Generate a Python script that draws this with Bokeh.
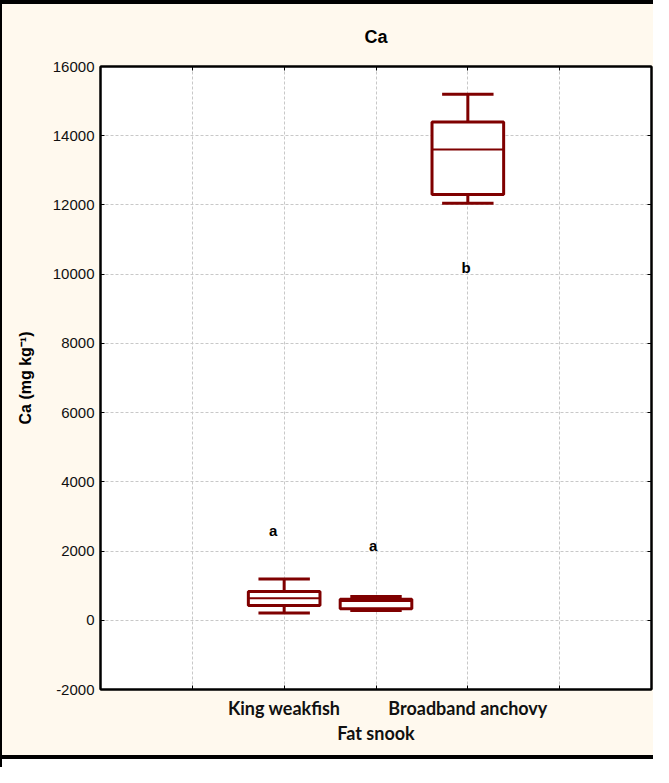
from bokeh.plotting import figure
from bokeh.models import FixedTicker, LinearAxis, Range1d, ColumnDataSource, Grid
from bokeh.core.properties import value
from bokeh.embed import file_html
from bokeh.resources import INLINE

# ---- data ----
categories = ["King weakfish", "Fat snook", "Broadband anchovy"]
cat_pos = [2, 3, 4]
whisker_low = [210, 280, 12050]
q1 = [430, 330, 12300]
median = [640, 560, 13600]
q3 = [830, 610, 14400]
whisker_high = [1190, 690, 15200]
letters = ["a", "a", "b"]
letter_x = [1.88, 2.97, 3.98]
letter_y = [2600, 2150, 10200]
y_ticks = [-2000, 0, 2000, 4000, 6000, 8000, 10000, 12000, 14000, 16000]
x_ticks = [1, 2, 3, 4, 5]

DARK = "#7F0000"
CREAM = "#FFF9EE"
BOX_W = 0.78
CAP_W = 0.56

src = ColumnDataSource(dict(
    x=cat_pos, lo=whisker_low, q1=q1, med=median, q3=q3, hi=whisker_high,
    bl=[c - BOX_W / 2 for c in cat_pos], br=[c + BOX_W / 2 for c in cat_pos],
    cl=[c - CAP_W / 2 for c in cat_pos], cr=[c + CAP_W / 2 for c in cat_pos],
))

W, H = 653, 767
p = figure(width=W, height=H, x_range=Range1d(0, 6), y_range=Range1d(-2000, 16000),
           x_axis_type=None, y_axis_type=None,
           output_backend="svg", toolbar_location=None,
           min_border_left=100, min_border_right=2, min_border_top=66,
           min_border_bottom=78)
p.background_fill_color = "white"
p.border_fill_color = None
p.outline_line_color = "black"
p.outline_line_width = 2

# panel background and borders drawn behind the (transparent) canvas
p.styles = {
    "background": (
        "linear-gradient(#000,#000) 0 0 / 100% 4px no-repeat, "
        "linear-gradient(#000,#000) 0 0 / 2px 100% no-repeat, "
        "linear-gradient(#000,#000) 0 755px / 100% 4px no-repeat, "
        "linear-gradient(#fff,#fff) 0 759px / 100% 8px no-repeat, "
        + CREAM
    )
}

# title
p.title.text = "Ca"
p.title.align = "center"
p.title.text_font = "Liberation Sans"
p.title.text_font_style = "bold"
p.title.text_font_size = "18px"
p.title.text_color = "black"
p.title.standoff = 40

# grids
p.add_layout(Grid(dimension=0, ticker=FixedTicker(ticks=x_ticks),
                  grid_line_color="#C8C8C8", grid_line_dash="3 2", grid_line_width=1))
p.add_layout(Grid(dimension=1, ticker=FixedTicker(ticks=y_ticks),
                  grid_line_color="#C8C8C8", grid_line_dash="3 2", grid_line_width=1))


def frame_axis(ticks):
    ax = LinearAxis(ticker=FixedTicker(ticks=ticks),
                    major_label_overrides={t: "" for t in ticks})
    ax.major_label_text_font_size = "0px"
    ax.major_label_standoff = 0
    ax.major_tick_in = 4
    ax.major_tick_out = 0
    ax.minor_tick_line_color = None
    ax.axis_line_color = "black"
    ax.axis_line_width = 2
    return ax


# y axis
yax = LinearAxis(ticker=FixedTicker(ticks=y_ticks),
                 major_label_overrides={t: str(t) for t in y_ticks})
yax.axis_label = "Ca (mg kg\u207b\u00b9)"
yax.axis_label_text_font = "Liberation Sans"
yax.axis_label_text_font_style = "bold"
yax.axis_label_text_font_size = "16px"
yax.axis_label_text_color = "black"
yax.axis_label_standoff = 16
yax.major_label_text_font = "Liberation Sans"
yax.major_label_text_font_size = "15px"
yax.major_label_text_color = "#111111"
yax.major_label_standoff = 6
yax.major_tick_in = 4
yax.major_tick_out = 0
yax.minor_tick_line_color = None
yax.axis_line_color = "black"
yax.axis_line_width = 2
p.add_layout(yax, "left")

# x axis (row 1)
labels = {1: "", 2: categories[0], 3: "", 4: categories[2], 5: ""}
xax = LinearAxis(ticker=FixedTicker(ticks=x_ticks), major_label_overrides=labels)
xax.major_label_text_font = "Lato"
xax.major_label_text_font_style = "bold"
xax.major_label_text_font_size = "18px"
xax.major_label_text_color = "#111111"
xax.major_label_standoff = 7
xax.major_tick_in = 4
xax.major_tick_out = 0
xax.minor_tick_line_color = None
xax.axis_line_color = "black"
xax.axis_line_width = 2
p.add_layout(xax, "below")

# x axis (row 2, staggered label)
xax2 = LinearAxis(ticker=FixedTicker(ticks=[3]), major_label_overrides={3: categories[1]})
xax2.major_label_text_font = "Lato"
xax2.major_label_text_font_style = "bold"
xax2.major_label_text_font_size = "18px"
xax2.major_label_text_color = "#111111"
xax2.major_label_standoff = -6
xax2.major_tick_line_color = None
xax2.minor_tick_line_color = None
xax2.axis_line_color = None
p.add_layout(xax2, "below")

# inward ticks on top and right edges of the frame
p.add_layout(frame_axis(x_ticks), "above")
p.add_layout(frame_axis(y_ticks), "right")

# boxes
p.segment(x0="x", y0="q3", x1="x", y1="hi", source=src, line_color=DARK, line_width=3)
p.segment(x0="x", y0="lo", x1="x", y1="q1", source=src, line_color=DARK, line_width=3)
p.segment(x0="cl", y0="hi", x1="cr", y1="hi", source=src, line_color=DARK, line_width=3)
p.segment(x0="cl", y0="lo", x1="cr", y1="lo", source=src, line_color=DARK, line_width=3)
p.vbar(x="x", width=BOX_W, bottom="q1", top="q3", source=src,
       fill_color="white", line_color=DARK, line_width=3)
p.segment(x0="bl", y0="med", x1="br", y1="med", source=src, line_color=DARK, line_width=2)

# significance letters
p.text(x=letter_x, y=letter_y, text=letters, text_align="center", text_baseline="middle",
       text_font=value("Liberation Sans"), text_font_style="bold", text_font_size="15px",
       text_color="black")

open("out.html", "w").write(file_html(p, INLINE))
